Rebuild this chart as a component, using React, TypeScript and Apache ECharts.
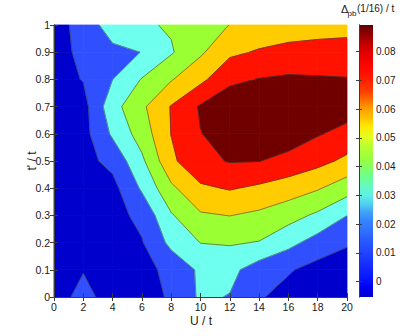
import React, { useEffect, useRef } from "react";
import * as echarts from "echarts";

// ---------- data ----------
const U_VALUES = [0, 2, 4, 6, 8, 10, 12, 14, 16, 18, 20];
const T_VALUES = [0, 0.1, 0.2, 0.3, 0.4, 0.5, 0.6, 0.7, 0.8, 0.9, 1.0];

// Δpb(1/16)/t, one row per t'/t value (columns follow U_VALUES)
const DELTA_T00 = [-0.0053, 0.0038, -0.0053, -0.005, 0.0015, 0.0174, 0.0143, 0.0014, -0.0053, -0.0053, -0.0052];
const DELTA_T01 = [-0.0045, -0.0006, -0.0053, -0.0052, 0.0045, 0.0176, 0.0191, 0.0075, 0.0014, -0.0052, -0.0045];
const DELTA_T02 = [-0.0045, -0.005, -0.0052, -0.001, 0.0189, 0.0303, 0.0314, 0.0293, 0.0194, 0.0089, 0.0009];
const DELTA_T03 = [-0.0045, -0.0052, -0.0053, 0.004, 0.0285, 0.0432, 0.0453, 0.042, 0.0357, 0.0273, 0.0151];
const DELTA_T04 = [-0.0045, -0.0052, -0.0047, 0.017, 0.042, 0.0575, 0.0611, 0.0573, 0.0527, 0.0464, 0.0368];
const DELTA_T05 = [-0.0045, -0.0047, 0.0042, 0.027, 0.057, 0.0713, 0.0758, 0.0753, 0.0702, 0.0645, 0.0566];
const DELTA_T06 = [-0.0045, -0.0052, 0.0173, 0.0369, 0.0603, 0.0746, 0.0803, 0.0818, 0.0836, 0.0761, 0.0704];
const DELTA_T07 = [-0.0052, -0.0053, 0.0245, 0.0422, 0.0608, 0.0765, 0.084, 0.0892, 0.0885, 0.0855, 0.0818];
const DELTA_T08 = [-0.0052, 0.0006, 0.0149, 0.0308, 0.044, 0.0563, 0.072, 0.0755, 0.0773, 0.0765, 0.0758];
const DELTA_T09 = [-0.0052, 0.0032, 0.0105, 0.0153, 0.0285, 0.0428, 0.057, 0.0615, 0.0642, 0.0653, 0.0652];
const DELTA_T10 = [-0.0045, 0.0041, 0.024, 0.0278, 0.0317, 0.0375, 0.0453, 0.0495, 0.0525, 0.054, 0.0555];

const DELTA_ROWS = [
  DELTA_T00, DELTA_T01, DELTA_T02, DELTA_T03, DELTA_T04, DELTA_T05,
  DELTA_T06, DELTA_T07, DELTA_T08, DELTA_T09, DELTA_T10,
];

const CONTOUR_LEVELS = [0, 0.015, 0.03, 0.045, 0.06, 0.075];
const X_TICK_STEP = 2;
const Y_TICK_STEP = 0.1;
const COLORBAR_TICKS = [0, 0.01, 0.02, 0.03, 0.04, 0.05, 0.06, 0.07, 0.08];

// ---------- styles ----------
const BAND_COLORS = ["#0000CD", "#3050FF", "#6FFFEF", "#9AFF33", "#FFCC00", "#FF1200", "#700000"];
const COLORMAP_STOPS: [number, string][] = [
  [-0.0053, "#0000D0"], [-0.002, "#0000F0"], [0.0015, "#0818FF"], [0.005, "#1428FF"],
  [0.0094, "#2040FF"], [0.014, "#2858FF"], [0.0175, "#3070FF"], [0.021, "#3484FF"],
  [0.024, "#40A0F8"], [0.027, "#50D0F0"], [0.03, "#60F0E4"], [0.0326, "#64F8C8"],
  [0.037, "#70FF88"], [0.0425, "#98FF40"], [0.047, "#B8FF30"], [0.05, "#E0FF20"],
  [0.054, "#FFE800"], [0.057, "#FFC000"], [0.06, "#FFA000"], [0.063, "#FF7000"],
  [0.066, "#FF4000"], [0.07, "#FF2000"], [0.074, "#FF0800"], [0.08, "#E00000"],
  [0.084, "#B00000"], [0.0892, "#600000"],
];
const FONT = "'Liberation Sans', Arial, Helvetica, sans-serif";
const TEXT_COLOR = "#1a1a1a";
const AXIS_COLOR = "#3c3c3c";

// ---------- contour geometry (computed from the grid) ----------
type P = { x: number; y: number; v: number };

function clip(poly: P[], level: number, keepAbove: boolean): P[] {
  const out: P[] = [];
  const n = poly.length;
  for (let k = 0; k < n; k++) {
    const a = poly[k];
    const b = poly[(k + 1) % n];
    const ina = keepAbove ? a.v >= level : a.v <= level;
    const inb = keepAbove ? b.v >= level : b.v <= level;
    if (ina) out.push(a);
    if (ina !== inb) {
      const t = (level - a.v) / (b.v - a.v);
      out.push({ x: a.x + t * (b.x - a.x), y: a.y + t * (b.y - a.y), v: level });
    }
  }
  return out;
}

function cellQuad(i: number, j: number): P[] {
  return [
    { x: U_VALUES[i], y: T_VALUES[j], v: DELTA_ROWS[j][i] },
    { x: U_VALUES[i + 1], y: T_VALUES[j], v: DELTA_ROWS[j][i + 1] },
    { x: U_VALUES[i + 1], y: T_VALUES[j + 1], v: DELTA_ROWS[j + 1][i + 1] },
    { x: U_VALUES[i], y: T_VALUES[j + 1], v: DELTA_ROWS[j + 1][i] },
  ];
}

function buildBands() {
  const polys: { band: number; pts: number[][] }[] = [];
  for (let j = 0; j < T_VALUES.length - 1; j++) {
    for (let i = 0; i < U_VALUES.length - 1; i++) {
      const quad = cellQuad(i, j);
      for (let b = 0; b <= CONTOUR_LEVELS.length; b++) {
        let p = quad;
        if (b > 0) p = clip(p, CONTOUR_LEVELS[b - 1], true);
        if (p.length >= 3 && b < CONTOUR_LEVELS.length) p = clip(p, CONTOUR_LEVELS[b], false);
        if (p.length >= 3) polys.push({ band: b, pts: p.map((q) => [q.x, q.y]) });
      }
    }
  }
  return polys;
}

function buildLines() {
  const segs: number[][][] = [];
  for (let j = 0; j < T_VALUES.length - 1; j++) {
    for (let i = 0; i < U_VALUES.length - 1; i++) {
      const q = cellQuad(i, j);
      for (const L of CONTOUR_LEVELS) {
        const pts: number[][] = [];
        for (let k = 0; k < 4; k++) {
          const a = q[k];
          const b = q[(k + 1) % 4];
          if ((a.v - L) * (b.v - L) < 0) {
            const t = (L - a.v) / (b.v - a.v);
            pts.push([a.x + t * (b.x - a.x), a.y + t * (b.y - a.y)]);
          }
        }
        if (pts.length === 2) segs.push([pts[0], pts[1]]);
        else if (pts.length === 4) {
          segs.push([pts[0], pts[1]]);
          segs.push([pts[2], pts[3]]);
        }
      }
    }
  }
  return segs;
}

function dataExtent() {
  let mn = Infinity;
  let mx = -Infinity;
  for (const r of DELTA_ROWS) for (const v of r) { mn = Math.min(mn, v); mx = Math.max(mx, v); }
  return [mn, mx];
}

export default function App() {
  const ref = useRef<HTMLDivElement>(null);

  useEffect(() => {
    if (!ref.current) return;
    const chart = echarts.init(ref.current, undefined, { renderer: "svg" });
    const bands = buildBands();
    const lines = buildLines();
    const [zMin, zMax] = dataExtent();
    const U_MIN = U_VALUES[0];
    const U_MAX = U_VALUES[U_VALUES.length - 1];
    const T_MIN = T_VALUES[0];
    const T_MAX = T_VALUES[T_VALUES.length - 1];

    const gradStops = COLORMAP_STOPS.map(([v, c]) => ({
      offset: Math.min(1, Math.max(0, (zMax - v) / (zMax - zMin))),
      color: c,
    })).sort((a, b) => a.offset - b.offset);

    const axisLabelStyle = { fontFamily: FONT, fontSize: 10.5, color: TEXT_COLOR };

    const option: any = {
      animation: false,
      backgroundColor: "#ffffff",
      grid: [
        { left: 54, top: 25, width: 293, height: 272 },
        { left: 359, top: 25, width: 14, height: 272 },
      ],
      xAxis: [
        {
          gridIndex: 0, type: "value", min: U_MIN, max: U_MAX, interval: X_TICK_STEP, z: 10,
          axisLine: { show: true, lineStyle: { color: AXIS_COLOR, width: 1 } },
          axisTick: { show: true, inside: true, length: 4, lineStyle: { color: AXIS_COLOR } },
          axisLabel: { ...axisLabelStyle, margin: 4 },
          splitLine: { show: false },
        },
        {
          gridIndex: 0, type: "value", position: "top", min: U_MIN, max: U_MAX, interval: X_TICK_STEP, z: 10,
          axisLine: { show: true, lineStyle: { color: AXIS_COLOR, width: 1 } },
          axisTick: { show: true, inside: true, length: 4, lineStyle: { color: AXIS_COLOR } },
          axisLabel: { show: false },
          splitLine: { show: false },
        },
        {
          gridIndex: 1, type: "value", min: 0, max: 1, show: false,
        },
      ],
      yAxis: [
        {
          gridIndex: 0, type: "value", min: T_MIN, max: T_MAX, interval: Y_TICK_STEP, z: 10,
          axisLine: { show: true, lineStyle: { color: AXIS_COLOR, width: 1 } },
          axisTick: { show: true, inside: true, length: 4, lineStyle: { color: AXIS_COLOR } },
          axisLabel: {
            ...axisLabelStyle, margin: 4,
            formatter: (v: number) => String(Math.round(v * 10) / 10),
          },
          splitLine: { show: false },
        },
        {
          gridIndex: 0, type: "value", position: "right", min: T_MIN, max: T_MAX, interval: Y_TICK_STEP, z: 10,
          axisLine: { show: true, lineStyle: { color: AXIS_COLOR, width: 1 } },
          axisTick: { show: true, inside: true, length: 4, lineStyle: { color: AXIS_COLOR } },
          axisLabel: { show: false },
          splitLine: { show: false },
        },
        {
          gridIndex: 1, type: "value", position: "right", min: zMin, max: zMax, z: 10,
          axisLine: { show: true, lineStyle: { color: AXIS_COLOR, width: 1 } },
          axisTick: { show: true, inside: true, length: 3, customValues: COLORBAR_TICKS, lineStyle: { color: AXIS_COLOR } },
          axisLabel: {
            ...axisLabelStyle, fontSize: 10, margin: 3, customValues: COLORBAR_TICKS,
            formatter: (v: number) => (Math.abs(v) < 1e-9 ? "0" : v.toFixed(2)),
          },
          splitLine: { show: false },
        },
        {
          gridIndex: 1, type: "value", position: "left", min: zMin, max: zMax, z: 10,
          axisLine: { show: true, lineStyle: { color: AXIS_COLOR, width: 1 } },
          axisTick: { show: true, inside: true, length: 3, customValues: COLORBAR_TICKS, lineStyle: { color: AXIS_COLOR } },
          axisLabel: { show: false },
          splitLine: { show: false },
        },
      ],
      series: [
        {
          type: "custom",
          xAxisIndex: 0,
          yAxisIndex: 0,
          silent: true,
          z: 1,
          data: bands.map((p) => [p.pts[0][0], p.pts[0][1], p.band]),
          renderItem: (params: any, api: any) => {
            const poly = bands[params.dataIndex];
            const col = BAND_COLORS[poly.band];
            return {
              type: "polygon",
              shape: { points: poly.pts.map((pt) => api.coord(pt)) },
              style: { fill: col, stroke: col, lineWidth: 0.8 },
            };
          },
        },
        {
          type: "custom",
          xAxisIndex: 0,
          yAxisIndex: 0,
          silent: true,
          z: 3,
          data: lines.map((s) => [s[0][0], s[0][1]]),
          renderItem: (params: any, api: any) => {
            const s = lines[params.dataIndex];
            const a = api.coord(s[0]);
            const b = api.coord(s[1]);
            return {
              type: "line",
              shape: { x1: a[0], y1: a[1], x2: b[0], y2: b[1] },
              style: { stroke: "rgba(60,60,60,0.85)", lineWidth: 0.7 },
            };
          },
        },
        {
          type: "custom",
          xAxisIndex: 2,
          yAxisIndex: 2,
          silent: true,
          z: 1,
          data: [[0, zMin, 1, zMax]],
          renderItem: (params: any, api: any) => {
            const p0 = api.coord([0, zMax]);
            const p1 = api.coord([1, zMin]);
            return {
              type: "rect",
              shape: { x: p0[0], y: p0[1], width: p1[0] - p0[0], height: p1[1] - p0[1] },
              style: { fill: new echarts.graphic.LinearGradient(0, 0, 0, 1, gradStops) },
            };
          },
        },
      ],
      graphic: [
        {
          type: "text", x: 201, y: 321,
          style: { text: "U / t", font: `12px ${FONT}`, fill: TEXT_COLOR, align: "center", verticalAlign: "middle" },
        },
        {
          type: "text", x: 32, y: 161, rotation: Math.PI / 2,
          style: { text: "t' / t", font: `12px ${FONT}`, fill: TEXT_COLOR, align: "center", verticalAlign: "middle" },
        },
        {
          type: "text", x: 341, y: 9,
          style: { text: "Δ", font: `11px ${FONT}`, fill: TEXT_COLOR, align: "left", verticalAlign: "middle" },
        },
        {
          type: "text", x: 347.5, y: 13,
          style: { text: "pb", font: `8px ${FONT}`, fill: TEXT_COLOR, align: "left", verticalAlign: "middle" },
        },
        {
          type: "text", x: 357, y: 8,
          style: { text: "(1/16) / t", font: `10px ${FONT}`, fill: TEXT_COLOR, align: "left", verticalAlign: "middle" },
        },
      ],
    };

    chart.setOption(option);
    return () => chart.dispose();
  }, []);

  return (
    <div
      ref={ref}
      style={{ position: "fixed", left: 0, top: 0, width: 414, height: 336, background: "#fff" }}
    />
  );
}
